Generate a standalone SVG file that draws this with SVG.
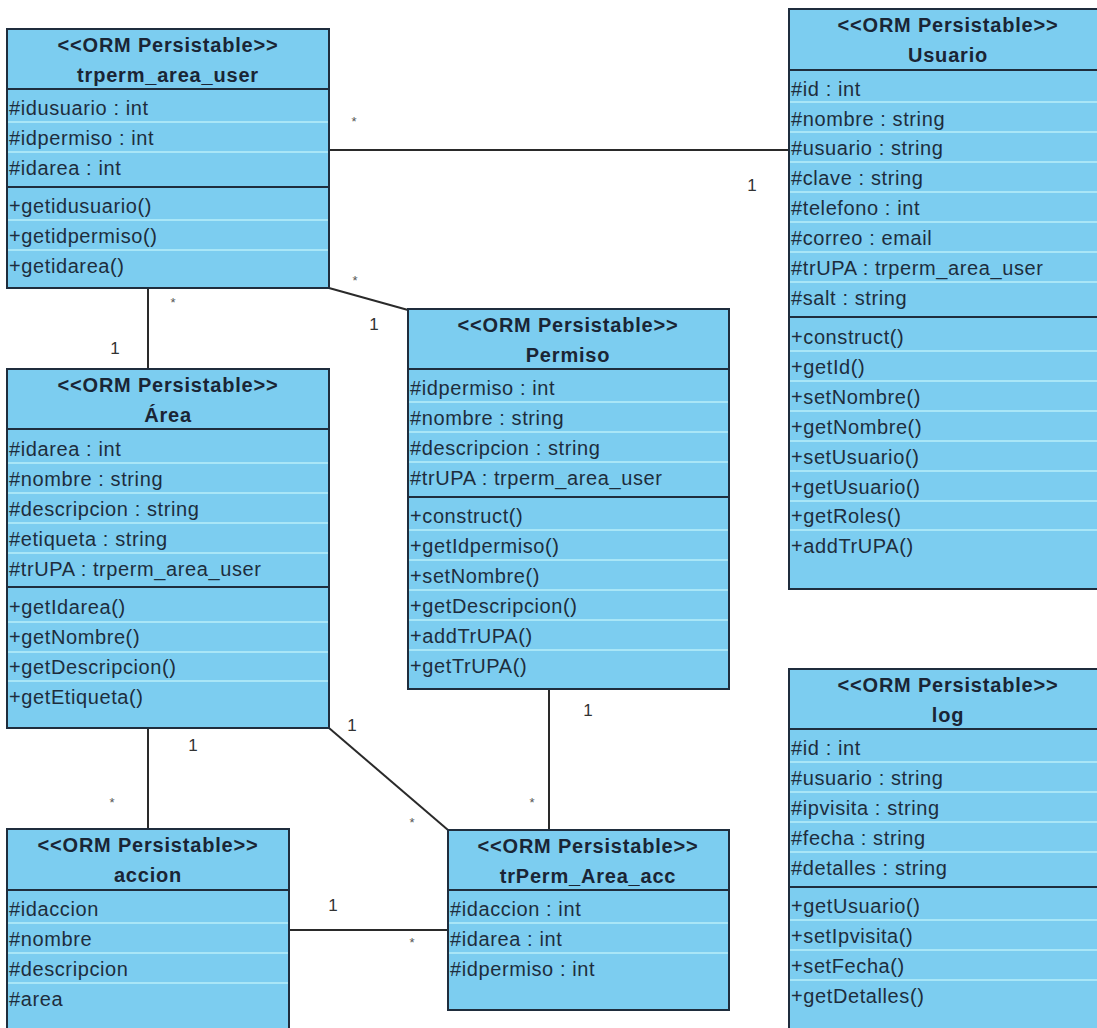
<svg xmlns="http://www.w3.org/2000/svg" width="1097" height="1028" viewBox="0 0 1097 1028">
<style>
.box{fill:#7ccdf0;stroke:#1f2d3d;stroke-width:2}
.dv{stroke:#1f2d3d;stroke-width:2}
.sp{stroke:#b8eefa;stroke-width:1.6}
.hd{font-family:"Liberation Sans",Arial,sans-serif;font-weight:bold;font-size:20px;fill:#1a2535;text-anchor:middle;letter-spacing:0.8px}
.at{font-family:"Liberation Sans",Arial,sans-serif;font-size:20px;fill:#1e2d3d;letter-spacing:0.6px}
.cn line{stroke:#2a2a2a;stroke-width:2}
.m1{font-family:"Liberation Sans",Arial,sans-serif;font-size:17px;fill:#333;text-anchor:middle}
.ms{font-family:"Liberation Sans",Arial,sans-serif;font-size:13px;fill:#555;text-anchor:middle}
</style>
<rect width="1097" height="1028" fill="#ffffff"/>

<g id="connectors" class="cn">
<line x1="329" y1="150" x2="789" y2="150"/>
<line x1="148" y1="288" x2="148" y2="369"/>
<line x1="329" y1="288" x2="408" y2="310"/>
<line x1="148" y1="728" x2="148" y2="829"/>
<line x1="329" y1="728" x2="448" y2="830"/>
<line x1="549" y1="689" x2="549" y2="830"/>
<line x1="289" y1="930" x2="448" y2="930"/>
<text class="ms" x="354" y="126">*</text>
<text class="m1" x="752" y="191">1</text>
<text class="ms" x="173" y="307">*</text>
<text class="m1" x="115" y="354">1</text>
<text class="ms" x="355" y="285">*</text>
<text class="m1" x="374" y="330">1</text>
<text class="m1" x="193" y="751">1</text>
<text class="ms" x="112" y="807">*</text>
<text class="m1" x="352" y="731">1</text>
<text class="ms" x="412" y="827">*</text>
<text class="m1" x="588" y="716">1</text>
<text class="ms" x="532" y="807">*</text>
<text class="m1" x="333" y="911">1</text>
<text class="ms" x="412" y="947">*</text>
</g>

<g id="trperm_area_user">
<rect class="box" x="7" y="29" width="322" height="259"/>
<text class="hd" x="168" y="52">&lt;&lt;ORM Persistable&gt;&gt;</text>
<text class="hd" x="168" y="82">trperm_area_user</text>
<line class="sp" x1="8" y1="122" x2="328" y2="122"/>
<line class="sp" x1="8" y1="152" x2="328" y2="152"/>
<line class="sp" x1="8" y1="220" x2="328" y2="220"/>
<line class="sp" x1="8" y1="250" x2="328" y2="250"/>
<line class="dv" x1="7" y1="89" x2="329" y2="89"/>
<line class="dv" x1="7" y1="187" x2="329" y2="187"/>
<text class="at" x="9" y="115">#idusuario : int</text>
<text class="at" x="9" y="145">#idpermiso : int</text>
<text class="at" x="9" y="175">#idarea : int</text>
<text class="at" x="9" y="213">+getidusuario()</text>
<text class="at" x="9" y="243">+getidpermiso()</text>
<text class="at" x="9" y="273">+getidarea()</text>
</g>

<g id="Usuario">
<rect class="box" x="789" y="9" width="318" height="580"/>
<text class="hd" x="948" y="32">&lt;&lt;ORM Persistable&gt;&gt;</text>
<text class="hd" x="948" y="62">Usuario</text>
<line class="sp" x1="790" y1="102" x2="1106" y2="102"/>
<line class="sp" x1="790" y1="132" x2="1106" y2="132"/>
<line class="sp" x1="790" y1="162" x2="1106" y2="162"/>
<line class="sp" x1="790" y1="192" x2="1106" y2="192"/>
<line class="sp" x1="790" y1="222" x2="1106" y2="222"/>
<line class="sp" x1="790" y1="252" x2="1106" y2="252"/>
<line class="sp" x1="790" y1="282" x2="1106" y2="282"/>
<line class="sp" x1="790" y1="351" x2="1106" y2="351"/>
<line class="sp" x1="790" y1="381" x2="1106" y2="381"/>
<line class="sp" x1="790" y1="411" x2="1106" y2="411"/>
<line class="sp" x1="790" y1="441" x2="1106" y2="441"/>
<line class="sp" x1="790" y1="471" x2="1106" y2="471"/>
<line class="sp" x1="790" y1="501" x2="1106" y2="501"/>
<line class="sp" x1="790" y1="530" x2="1106" y2="530"/>
<line class="dv" x1="789" y1="70" x2="1107" y2="70"/>
<line class="dv" x1="789" y1="317" x2="1107" y2="317"/>
<text class="at" x="791" y="96">#id : int</text>
<text class="at" x="791" y="126">#nombre : string</text>
<text class="at" x="791" y="155">#usuario : string</text>
<text class="at" x="791" y="185">#clave : string</text>
<text class="at" x="791" y="215">#telefono : int</text>
<text class="at" x="791" y="245">#correo : email</text>
<text class="at" x="791" y="275">#trUPA : trperm_area_user</text>
<text class="at" x="791" y="305">#salt : string</text>
<text class="at" x="791" y="344">+construct()</text>
<text class="at" x="791" y="374">+getId()</text>
<text class="at" x="791" y="404">+setNombre()</text>
<text class="at" x="791" y="434">+getNombre()</text>
<text class="at" x="791" y="464">+setUsuario()</text>
<text class="at" x="791" y="494">+getUsuario()</text>
<text class="at" x="791" y="523">+getRoles()</text>
<text class="at" x="791" y="553">+addTrUPA()</text>
</g>

<g id="Area">
<rect class="box" x="7" y="369" width="322" height="359"/>
<text class="hd" x="168" y="392">&lt;&lt;ORM Persistable&gt;&gt;</text>
<text class="hd" x="168" y="422">Área</text>
<line class="sp" x1="8" y1="463" x2="328" y2="463"/>
<line class="sp" x1="8" y1="493" x2="328" y2="493"/>
<line class="sp" x1="8" y1="523" x2="328" y2="523"/>
<line class="sp" x1="8" y1="553" x2="328" y2="553"/>
<line class="sp" x1="8" y1="622" x2="328" y2="622"/>
<line class="sp" x1="8" y1="652" x2="328" y2="652"/>
<line class="sp" x1="8" y1="681" x2="328" y2="681"/>
<line class="dv" x1="7" y1="429" x2="329" y2="429"/>
<line class="dv" x1="7" y1="587" x2="329" y2="587"/>
<text class="at" x="9" y="456">#idarea : int</text>
<text class="at" x="9" y="486">#nombre : string</text>
<text class="at" x="9" y="516">#descripcion : string</text>
<text class="at" x="9" y="546">#etiqueta : string</text>
<text class="at" x="9" y="576">#trUPA : trperm_area_user</text>
<text class="at" x="9" y="614">+getIdarea()</text>
<text class="at" x="9" y="644">+getNombre()</text>
<text class="at" x="9" y="674">+getDescripcion()</text>
<text class="at" x="9" y="704">+getEtiqueta()</text>
</g>

<g id="Permiso">
<rect class="box" x="408" y="309" width="321" height="380"/>
<text class="hd" x="568" y="332">&lt;&lt;ORM Persistable&gt;&gt;</text>
<text class="hd" x="568" y="362">Permiso</text>
<line class="sp" x1="409" y1="402" x2="728" y2="402"/>
<line class="sp" x1="409" y1="432" x2="728" y2="432"/>
<line class="sp" x1="409" y1="462" x2="728" y2="462"/>
<line class="sp" x1="409" y1="530" x2="728" y2="530"/>
<line class="sp" x1="409" y1="560" x2="728" y2="560"/>
<line class="sp" x1="409" y1="590" x2="728" y2="590"/>
<line class="sp" x1="409" y1="620" x2="728" y2="620"/>
<line class="sp" x1="409" y1="650" x2="728" y2="650"/>
<line class="dv" x1="408" y1="369" x2="729" y2="369"/>
<line class="dv" x1="408" y1="497" x2="729" y2="497"/>
<text class="at" x="410" y="395">#idpermiso : int</text>
<text class="at" x="410" y="425">#nombre : string</text>
<text class="at" x="410" y="455">#descripcion : string</text>
<text class="at" x="410" y="485">#trUPA : trperm_area_user</text>
<text class="at" x="410" y="523">+construct()</text>
<text class="at" x="410" y="553">+getIdpermiso()</text>
<text class="at" x="410" y="583">+setNombre()</text>
<text class="at" x="410" y="613">+getDescripcion()</text>
<text class="at" x="410" y="643">+addTrUPA()</text>
<text class="at" x="410" y="673">+getTrUPA()</text>
</g>

<g id="log">
<rect class="box" x="789" y="669" width="318" height="380"/>
<text class="hd" x="948" y="692">&lt;&lt;ORM Persistable&gt;&gt;</text>
<text class="hd" x="948" y="722">log</text>
<line class="sp" x1="790" y1="762" x2="1106" y2="762"/>
<line class="sp" x1="790" y1="792" x2="1106" y2="792"/>
<line class="sp" x1="790" y1="822" x2="1106" y2="822"/>
<line class="sp" x1="790" y1="852" x2="1106" y2="852"/>
<line class="sp" x1="790" y1="920" x2="1106" y2="920"/>
<line class="sp" x1="790" y1="950" x2="1106" y2="950"/>
<line class="sp" x1="790" y1="980" x2="1106" y2="980"/>
<line class="dv" x1="789" y1="729" x2="1107" y2="729"/>
<line class="dv" x1="789" y1="887" x2="1107" y2="887"/>
<text class="at" x="791" y="755">#id : int</text>
<text class="at" x="791" y="785">#usuario : string</text>
<text class="at" x="791" y="815">#ipvisita : string</text>
<text class="at" x="791" y="845">#fecha : string</text>
<text class="at" x="791" y="875">#detalles : string</text>
<text class="at" x="791" y="913">+getUsuario()</text>
<text class="at" x="791" y="943">+setIpvisita()</text>
<text class="at" x="791" y="973">+setFecha()</text>
<text class="at" x="791" y="1003">+getDetalles()</text>
</g>

<g id="accion">
<rect class="box" x="7" y="829" width="282" height="220"/>
<text class="hd" x="148" y="852">&lt;&lt;ORM Persistable&gt;&gt;</text>
<text class="hd" x="148" y="882">accion</text>
<line class="sp" x1="8" y1="923" x2="288" y2="923"/>
<line class="sp" x1="8" y1="953" x2="288" y2="953"/>
<line class="sp" x1="8" y1="983" x2="288" y2="983"/>
<line class="dv" x1="7" y1="890" x2="289" y2="890"/>
<text class="at" x="9" y="916">#idaccion</text>
<text class="at" x="9" y="946">#nombre</text>
<text class="at" x="9" y="976">#descripcion</text>
<text class="at" x="9" y="1006">#area</text>
</g>

<g id="trPerm_Area_acc">
<rect class="box" x="448" y="830" width="281" height="180"/>
<text class="hd" x="588" y="853">&lt;&lt;ORM Persistable&gt;&gt;</text>
<text class="hd" x="588" y="883">trPerm_Area_acc</text>
<line class="sp" x1="449" y1="923" x2="728" y2="923"/>
<line class="sp" x1="449" y1="953" x2="728" y2="953"/>
<line class="dv" x1="448" y1="890" x2="729" y2="890"/>
<text class="at" x="450" y="916">#idaccion : int</text>
<text class="at" x="450" y="946">#idarea : int</text>
<text class="at" x="450" y="976">#idpermiso : int</text>
</g>
</svg>
